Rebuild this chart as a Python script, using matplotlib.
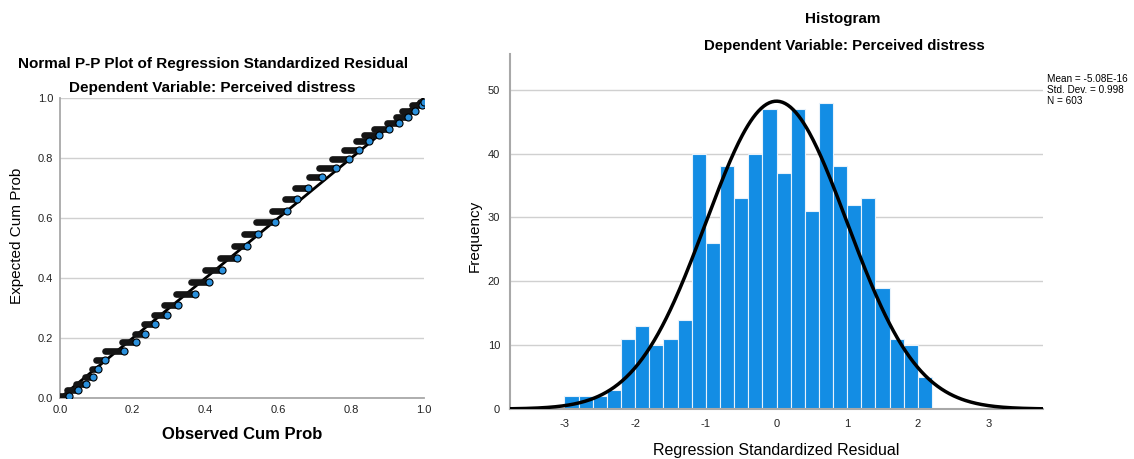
import numpy as np
import matplotlib.pyplot as plt

plt.rcParams['font.family'] = ['Liberation Sans', 'DejaVu Sans']
plt.rcParams['axes.unicode_minus'] = False

# histogram of standardized residuals (bin width 0.2, starting at -3.0)
bin_start = -3.0
bin_width = 0.2
counts = [2, 2, 2, 3, 11, 13, 10, 11, 14, 40, 26, 38, 33, 40, 47, 37, 47,
          31, 48, 38, 32, 33, 19, 11, 10, 5]
res_mean = -5.08e-16
res_sd = 0.998
n_obs = 603

# P-P plot: runs of tied points (observed start, observed end, expected)
pp_x0 = [0.000, 0.020, 0.045, 0.068, 0.088, 0.100, 0.125, 0.170, 0.205, 0.232,
         0.258, 0.285, 0.318, 0.360, 0.398, 0.440, 0.478, 0.505, 0.538, 0.583,
         0.617, 0.645, 0.683, 0.711, 0.748, 0.780, 0.812, 0.835, 0.862, 0.898,
         0.922, 0.940, 0.968, 0.990]
pp_x1 = [0.025, 0.050, 0.072, 0.092, 0.105, 0.125, 0.176, 0.208, 0.233, 0.262,
         0.295, 0.325, 0.370, 0.408, 0.445, 0.487, 0.515, 0.545, 0.592, 0.625,
         0.652, 0.680, 0.720, 0.758, 0.795, 0.822, 0.848, 0.875, 0.905, 0.932,
         0.955, 0.975, 0.995, 1.000]
pp_y = [0.007, 0.025, 0.045, 0.070, 0.095, 0.125, 0.158, 0.185, 0.213, 0.245,
        0.278, 0.310, 0.348, 0.388, 0.425, 0.465, 0.505, 0.545, 0.585, 0.623,
        0.663, 0.700, 0.735, 0.768, 0.798, 0.827, 0.855, 0.877, 0.897, 0.915,
        0.935, 0.955, 0.975, 0.985]

grid_col = '#d0d0d0'
spine_col = '#a8a8a8'
bar_col = '#138de4'
dot_col = '#2a90dc'

fig = plt.figure(figsize=(11.34, 4.59), dpi=100)

# ---- left: P-P plot
ax1 = fig.add_axes([0.0529, 0.1329, 0.3210, 0.6536])
ax1.plot([0, 1], [0, 1], color='black', lw=2, zorder=2)
for a, b, y in zip(pp_x0, pp_x1, pp_y):
    ax1.plot([a, b], [y, y], color='#151515', lw=4.8, solid_capstyle='round', zorder=3)
ax1.scatter(pp_x1, pp_y, s=26, color=dot_col, edgecolor='black', lw=0.8, zorder=4)
ax1.set_xlim(0, 1)
ax1.set_ylim(0, 1)
ax1.set_xticks(np.arange(0, 1.01, 0.2))
ax1.set_yticks(np.arange(0, 1.01, 0.2))
ax1.set_xticklabels(['0.0', '0.2', '0.4', '0.6', '0.8', '1.0'])
ax1.set_yticklabels(['0.0', '0.2', '0.4', '0.6', '0.8', '1.0'])
ax1.grid(axis='y', color=grid_col, lw=1)
ax1.set_axisbelow(True)
for s in ['top', 'right']:
    ax1.spines[s].set_visible(False)
for s in ['left', 'bottom']:
    ax1.spines[s].set_color(spine_col)
    ax1.spines[s].set_linewidth(1.3)
ax1.tick_params(length=0, labelsize=8, colors='#222222', pad=5)
ax1.set_xlabel('Observed Cum Prob', fontsize=12, fontweight='bold', labelpad=9)
ax1.set_ylabel('Expected Cum Prob', fontsize=11)
ax1.yaxis.set_label_coords(-0.099, 0.54)
fig.text(0.188, 0.861, 'Normal P-P Plot of Regression Standardized Residual',
         ha='center', va='center', fontsize=11, fontweight='bold')
fig.text(0.187, 0.809, 'Dependent Variable: Perceived distress',
         ha='center', va='center', fontsize=11, fontweight='bold')

# ---- right: histogram
ax2 = fig.add_axes([0.4497, 0.1089, 0.4701, 0.7735])
edges = bin_start + bin_width * np.arange(len(counts) + 1)
ax2.hist(edges[:-1], bins=edges, weights=counts, color=bar_col,
         edgecolor='#e8f2fb', lw=0.8, zorder=2)
xs = np.linspace(-3.77, 3.77, 400)
pdf = n_obs * bin_width / (res_sd * np.sqrt(2 * np.pi)) * np.exp(-0.5 * ((xs - res_mean) / res_sd) ** 2)
ax2.plot(xs, pdf, color='black', lw=2.5, zorder=3)
ax2.set_xlim(-3.77, 3.77)
ax2.set_ylim(0, 55.6)
ax2.set_xticks([-3, -2, -1, 0, 1, 2, 3])
ax2.set_yticks([0, 10, 20, 30, 40, 50])
ax2.grid(axis='y', color=grid_col, lw=1)
ax2.set_axisbelow(True)
for s in ['top', 'right']:
    ax2.spines[s].set_visible(False)
for s in ['left', 'bottom']:
    ax2.spines[s].set_color(spine_col)
    ax2.spines[s].set_linewidth(1.5)
ax2.tick_params(length=0, labelsize=8, colors='#222222', pad=7)
ax2.set_xlabel('Regression Standardized Residual', fontsize=11.5, labelpad=10)
ax2.set_ylabel('Frequency', fontsize=11)
ax2.yaxis.set_label_coords(-0.053, 0.487)
fig.text(0.743, 0.958, 'Histogram', ha='center', va='center',
         fontsize=11, fontweight='bold')
fig.text(0.745, 0.900, 'Dependent Variable: Perceived distress',
         ha='center', va='center', fontsize=10.8, fontweight='bold')
fig.text(0.9235, 0.804, 'Mean = -5.08E-16\nStd. Dev. = 0.998\nN = 603',
         ha='left', va='center', fontsize=7.2, linespacing=1.1)

fig.savefig('out.png', dpi=100)
